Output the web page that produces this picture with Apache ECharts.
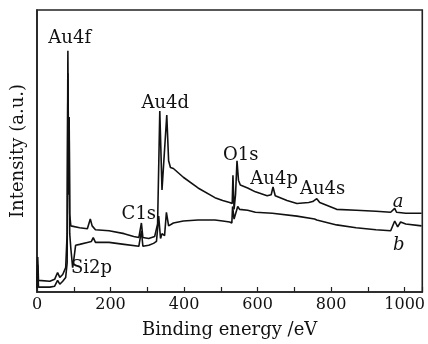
<!DOCTYPE html>
<html><head><meta charset="utf-8">
<script src="https://cdn.jsdelivr.net/npm/echarts@6/dist/echarts.min.js"></script>
<style>html,body{margin:0;padding:0;background:#fff}#c{width:428px;height:344px}</style>
</head><body><div id="c"></div>
<script>
// Curve a (upper spectrum): binding energy (eV) and intensity (a.u.)
var aEnergy = [0,2,4,8,35,48,56,62,70,75,78,82,84,86,87.5,89,92,94,116,137,145,150,159,196,237,263,277,284,288,304,320,328,334,340,353,358,363,371,398,438,484,505,524,531,533,536,540,544,548,553,573,594,626,637,642,648,680,707,739,750,761,769,815,868,922,962,973,978,1003,1046];
var aIntensity = [11,36,12,10,11,13,20,15,18,17,25,60,248,120,180,80,68,66,66,65,75,68,64,63,60,57,56,71,56,55,57,70,186,105,182,135,128,127,118,107,97,94,92,91,120,85,100,135,115,110,107,103,99,100,108,99,94,91,92,93,96,92,85,84,83,82,86,82,81,81];
// Curve b (lower spectrum)
var bEnergy = [0,2,4,8,35,48,56,62,70,75,78,82,84,86,87.5,89,92,97,99,105,116,137,148,153,159,196,237,277,284,288,304,317,325,331,336,340,347,352,358,371,398,438,484,505,524,530,532,536,540,546,551,573,594,640,707,755,761,815,868,922,962,973,981,989,1003,1046];
var bIntensity = [4,28,5,4,5,6,12,8,11,9,15,30,225,100,170,60,45,25,30,48,49,51,52,56,51,51,49,47,63,47,48,50,52,78,55,60,58,82,68,71,73,74,74,73,72,71,88,75,77,88,85,84,82,81,78,75,74,69,66,64,63,73,67,72,70,68];
// Peak annotations: [energy, intensity, text]
var labelEnergy = [89, 349, 277, 148, 554, 645, 777];
var labelIntensity = [261, 194, 80, 24, 141, 116, 106];
var labelText = ['Au4f', 'Au4d', 'C1s', 'Si2p', 'O1s', 'Au4p', 'Au4s'];
var curveNameEnergy = [982, 984];
var curveNameIntensity = [92, 48];
var curveNames = ['a', 'b'];
var xTicks = [0, 200, 400, 600, 800, 1000];

function pairs(x, y){ return x.map(function(v,i){ return [v, y[i]]; }); }
var FONT = 'DejaVu Serif';
var chart = echarts.init(document.getElementById('c'));
var marks = labelText.map(function(t,i){
  return {coord:[labelEnergy[i], labelIntensity[i]], value:t};
}).concat(curveNames.map(function(t,i){
  return {coord:[curveNameEnergy[i], curveNameIntensity[i]], value:t, label:{fontStyle:'italic'}};
}));
chart.setOption({
  backgroundColor:'#ffffff',
  animation:false,
  grid:{left:37, right:2, top:10, bottom:44, show:true, borderColor:'#222', borderWidth:1.6, backgroundColor:'transparent'},
  xAxis:{type:'value', min:0, max:1048, interval:100,
    name:'Binding energy /eV', nameLocation:'middle', nameGap:29,
    nameTextStyle:{fontFamily:FONT, fontSize:18, color:'#111'},
    axisLine:{show:true, lineStyle:{color:'#222', width:1.6}},
    axisTick:{show:true, inside:true, length:5, lineStyle:{color:'#222', width:1.2}},
    axisLabel:{fontFamily:FONT, fontSize:16, color:'#111', margin:5,
      formatter:function(v){ return xTicks.indexOf(v) >= 0 ? String(v) : ''; }},
    splitLine:{show:false}},
  yAxis:{type:'value', min:0, max:290,
    name:'Intensity (a.u.)', nameLocation:'middle', nameGap:10,
    nameTextStyle:{fontFamily:FONT, fontSize:18, color:'#111'},
    axisLine:{show:true, lineStyle:{color:'#222', width:1.6}},
    axisTick:{show:false}, axisLabel:{show:false}, splitLine:{show:false}},
  series:[
    {type:'line', data:pairs(aEnergy, aIntensity), showSymbol:false, symbol:'none',
     lineStyle:{color:'#111', width:1.6}, z:3,
     markPoint:{symbol:'circle', symbolSize:0, silent:true,
       label:{show:true, position:'inside', fontFamily:FONT, fontSize:18, color:'#111',
         formatter:function(p){ return p.value; }},
       data:marks}},
    {type:'line', data:pairs(bEnergy, bIntensity), showSymbol:false, symbol:'none',
     lineStyle:{color:'#111', width:1.6}, z:3}
  ]
});
</script></body></html>
